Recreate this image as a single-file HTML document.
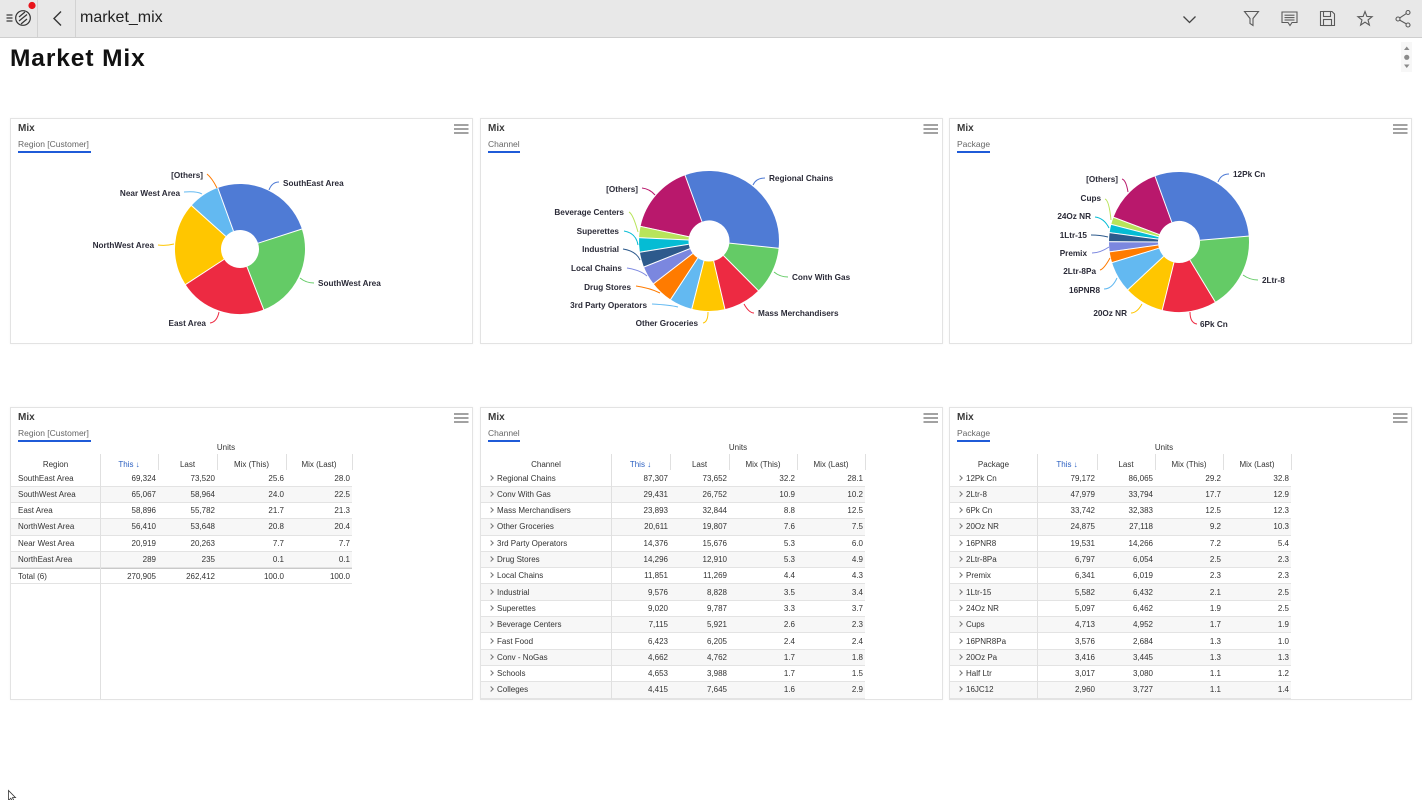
<!DOCTYPE html>
<html><head><meta charset="utf-8">
<style>
*{margin:0;padding:0;box-sizing:border-box}
body{width:1422px;height:800px;overflow:hidden;background:#fff;font-family:"Liberation Sans",Arial,sans-serif;color:#333;position:relative}
.topbar{position:absolute;left:0;top:0;width:1422px;height:38px;background:#e8e8e8;border-bottom:1px solid #cecece}
.vsep{position:absolute;top:0;width:1px;height:37px;background:#d2d2d2}
.appname{position:absolute;left:80px;top:9px;font-size:16px;color:#222;line-height:18px}
h1{position:absolute;left:10px;top:44px;font-size:24.5px;letter-spacing:0.9px;font-weight:bold;color:#111;line-height:30px}
.panel{position:absolute;background:#fff;border:1px solid #e3e3e3;box-shadow:0 0 2px rgba(0,0,0,0.04)}
.ptitle{position:absolute;left:7px;top:4px;font-size:10px;font-weight:bold;color:#3a3a3a;line-height:12px}
.psub{position:absolute;left:7px;top:20px;font-size:8.5px;color:#666;line-height:11px;white-space:nowrap}
.pul{position:absolute;left:7px;top:32px;height:2px;background:#1f5bd8}
.units{position:absolute;top:443px;line-height:10px;font-size:8px;text-align:center;color:#333}
.hd{position:absolute;top:457px;height:16px;line-height:16px;font-size:8px;display:flex;color:#333}
.hd span{display:block;text-align:center}
.hd .blue{color:#2a5fc1}
.vl{position:absolute;width:1px;background:#e0e0e0}
.tb{position:absolute;top:470.4px;font-size:8px;color:#333}
.r{height:16.3px;border-bottom:1px solid #e3e3e3;display:flex;align-items:center;white-space:nowrap}
.r.a{background:#f7f7f7}
.r.tot{border-top:1px solid #c9c9c9}
.r span{display:block;text-align:right;padding-right:2px}
.r span:first-child{text-align:left}
.ch{display:inline-block;width:4px;height:4px;border-right:1px solid #777;border-top:1px solid #777;transform:rotate(45deg);margin-right:4px;vertical-align:1px}
.t1 .r span:nth-child(1){width:89px;padding-left:7px}
.t1 .r span:nth-child(2){width:58px}
.t1 .r span:nth-child(3){width:59px}
.t1 .r span:nth-child(4){width:69px}
.t1 .r span:nth-child(5){width:66px}
.t2 .r span:nth-child(1){width:130px;padding-left:8px}
.t2 .r span:nth-child(2){width:59px}
.t2 .r span:nth-child(3){width:59px}
.t2 .r span:nth-child(4){width:68px}
.t2 .r span:nth-child(5){width:68px}
.t3 .r span:nth-child(1){width:87px;padding-left:8px}
.t3 .r span:nth-child(2){width:60px}
.t3 .r span:nth-child(3){width:58px}
.t3 .r span:nth-child(4){width:68px}
.t3 .r span:nth-child(5){width:68px}
svg.ov{position:absolute;left:0;top:0;width:1422px;height:800px}
.lb{font-family:"Liberation Sans",Arial,sans-serif;font-size:8.2px;font-weight:bold;fill:#2b2b38}
</style></head><body>

<div class="topbar"></div>
<div class="vsep" style="left:37px"></div>
<div class="vsep" style="left:75px"></div>
<div class="appname">market_mix</div>
<h1>Market Mix</h1>

<!-- pie panels -->
<div class="panel" style="left:10px;top:118px;width:463px;height:226px">
  <div class="ptitle">Mix</div><div class="psub">Region [Customer]</div><div class="pul" style="width:73px"></div>
</div>
<div class="panel" style="left:480px;top:118px;width:463px;height:226px">
  <div class="ptitle">Mix</div><div class="psub">Channel</div><div class="pul" style="width:32px"></div>
</div>
<div class="panel" style="left:949px;top:118px;width:463px;height:226px">
  <div class="ptitle">Mix</div><div class="psub">Package</div><div class="pul" style="width:33px"></div>
</div>

<!-- table panels -->
<div class="panel" style="left:10px;top:407px;width:463px;height:293px">
  <div class="ptitle">Mix</div><div class="psub">Region [Customer]</div><div class="pul" style="width:73px"></div>
</div>
<div class="panel" style="left:480px;top:407px;width:463px;height:293px">
  <div class="ptitle">Mix</div><div class="psub">Channel</div><div class="pul" style="width:32px"></div>
</div>
<div class="panel" style="left:949px;top:407px;width:463px;height:293px">
  <div class="ptitle">Mix</div><div class="psub">Package</div><div class="pul" style="width:33px"></div>
</div>

<!-- Table 1 -->
<div class="units" style="left:100px;width:252px">Units</div>
<div class="hd" style="left:11px">
  <span style="width:89px">Region</span>
  <span style="width:58px" class="blue">This <b>&#8595;</b></span>
  <span style="width:59px">Last</span>
  <span style="width:69px">Mix (This)</span>
  <span style="width:66px">Mix (Last)</span>
</div>
<div class="tb t1" style="left:11px;width:341px">
  <div class="r"><span>SouthEast Area</span><span>69,324</span><span>73,520</span><span>25.6</span><span>28.0</span></div>
  <div class="r a"><span>SouthWest Area</span><span>65,067</span><span>58,964</span><span>24.0</span><span>22.5</span></div>
  <div class="r"><span>East Area</span><span>58,896</span><span>55,782</span><span>21.7</span><span>21.3</span></div>
  <div class="r a"><span>NorthWest Area</span><span>56,410</span><span>53,648</span><span>20.8</span><span>20.4</span></div>
  <div class="r"><span>Near West Area</span><span>20,919</span><span>20,263</span><span>7.7</span><span>7.7</span></div>
  <div class="r a"><span>NorthEast Area</span><span>289</span><span>235</span><span>0.1</span><span>0.1</span></div>
  <div class="r tot"><span>Total (6)</span><span>270,905</span><span>262,412</span><span>100.0</span><span>100.0</span></div>
</div>
<div class="vl" style="left:100px;top:454px;height:245px"></div>
<div class="vl" style="left:158px;top:454px;height:16px"></div>
<div class="vl" style="left:217px;top:454px;height:16px"></div>
<div class="vl" style="left:286px;top:454px;height:16px"></div>
<div class="vl" style="left:352px;top:454px;height:16px"></div>

<!-- Table 2 -->
<div class="units" style="left:611px;width:254px">Units</div>
<div class="hd" style="left:481px">
  <span style="width:130px">Channel</span>
  <span style="width:59px" class="blue">This <b>&#8595;</b></span>
  <span style="width:59px">Last</span>
  <span style="width:68px">Mix (This)</span>
  <span style="width:68px">Mix (Last)</span>
</div>
<div class="tb t2" style="left:481px;width:384px">
  <div class="r"><span><i class="ch"></i>Regional Chains</span><span>87,307</span><span>73,652</span><span>32.2</span><span>28.1</span></div>
  <div class="r a"><span><i class="ch"></i>Conv With Gas</span><span>29,431</span><span>26,752</span><span>10.9</span><span>10.2</span></div>
  <div class="r"><span><i class="ch"></i>Mass Merchandisers</span><span>23,893</span><span>32,844</span><span>8.8</span><span>12.5</span></div>
  <div class="r a"><span><i class="ch"></i>Other Groceries</span><span>20,611</span><span>19,807</span><span>7.6</span><span>7.5</span></div>
  <div class="r"><span><i class="ch"></i>3rd Party Operators</span><span>14,376</span><span>15,676</span><span>5.3</span><span>6.0</span></div>
  <div class="r a"><span><i class="ch"></i>Drug Stores</span><span>14,296</span><span>12,910</span><span>5.3</span><span>4.9</span></div>
  <div class="r"><span><i class="ch"></i>Local Chains</span><span>11,851</span><span>11,269</span><span>4.4</span><span>4.3</span></div>
  <div class="r a"><span><i class="ch"></i>Industrial</span><span>9,576</span><span>8,828</span><span>3.5</span><span>3.4</span></div>
  <div class="r"><span><i class="ch"></i>Superettes</span><span>9,020</span><span>9,787</span><span>3.3</span><span>3.7</span></div>
  <div class="r a"><span><i class="ch"></i>Beverage Centers</span><span>7,115</span><span>5,921</span><span>2.6</span><span>2.3</span></div>
  <div class="r"><span><i class="ch"></i>Fast Food</span><span>6,423</span><span>6,205</span><span>2.4</span><span>2.4</span></div>
  <div class="r a"><span><i class="ch"></i>Conv - NoGas</span><span>4,662</span><span>4,762</span><span>1.7</span><span>1.8</span></div>
  <div class="r"><span><i class="ch"></i>Schools</span><span>4,653</span><span>3,988</span><span>1.7</span><span>1.5</span></div>
  <div class="r a"><span><i class="ch"></i>Colleges</span><span>4,415</span><span>7,645</span><span>1.6</span><span>2.9</span></div>
</div>
<div class="vl" style="left:611px;top:454px;height:245px"></div>
<div class="vl" style="left:670px;top:454px;height:16px"></div>
<div class="vl" style="left:729px;top:454px;height:16px"></div>
<div class="vl" style="left:797px;top:454px;height:16px"></div>
<div class="vl" style="left:865px;top:454px;height:16px"></div>

<!-- Table 3 -->
<div class="units" style="left:1037px;width:254px">Units</div>
<div class="hd" style="left:950px">
  <span style="width:87px">Package</span>
  <span style="width:60px" class="blue">This <b>&#8595;</b></span>
  <span style="width:58px">Last</span>
  <span style="width:68px">Mix (This)</span>
  <span style="width:68px">Mix (Last)</span>
</div>
<div class="tb t3" style="left:950px;width:341px">
  <div class="r"><span><i class="ch"></i>12Pk Cn</span><span>79,172</span><span>86,065</span><span>29.2</span><span>32.8</span></div>
  <div class="r a"><span><i class="ch"></i>2Ltr-8</span><span>47,979</span><span>33,794</span><span>17.7</span><span>12.9</span></div>
  <div class="r"><span><i class="ch"></i>6Pk Cn</span><span>33,742</span><span>32,383</span><span>12.5</span><span>12.3</span></div>
  <div class="r a"><span><i class="ch"></i>20Oz NR</span><span>24,875</span><span>27,118</span><span>9.2</span><span>10.3</span></div>
  <div class="r"><span><i class="ch"></i>16PNR8</span><span>19,531</span><span>14,266</span><span>7.2</span><span>5.4</span></div>
  <div class="r a"><span><i class="ch"></i>2Ltr-8Pa</span><span>6,797</span><span>6,054</span><span>2.5</span><span>2.3</span></div>
  <div class="r"><span><i class="ch"></i>Premix</span><span>6,341</span><span>6,019</span><span>2.3</span><span>2.3</span></div>
  <div class="r a"><span><i class="ch"></i>1Ltr-15</span><span>5,582</span><span>6,432</span><span>2.1</span><span>2.5</span></div>
  <div class="r"><span><i class="ch"></i>24Oz NR</span><span>5,097</span><span>6,462</span><span>1.9</span><span>2.5</span></div>
  <div class="r a"><span><i class="ch"></i>Cups</span><span>4,713</span><span>4,952</span><span>1.7</span><span>1.9</span></div>
  <div class="r"><span><i class="ch"></i>16PNR8Pa</span><span>3,576</span><span>2,684</span><span>1.3</span><span>1.0</span></div>
  <div class="r a"><span><i class="ch"></i>20Oz Pa</span><span>3,416</span><span>3,445</span><span>1.3</span><span>1.3</span></div>
  <div class="r"><span><i class="ch"></i>Half Ltr</span><span>3,017</span><span>3,080</span><span>1.1</span><span>1.2</span></div>
  <div class="r a"><span><i class="ch"></i>16JC12</span><span>2,960</span><span>3,727</span><span>1.1</span><span>1.4</span></div>
</div>
<div class="vl" style="left:1037px;top:454px;height:245px"></div>
<div class="vl" style="left:1097px;top:454px;height:16px"></div>
<div class="vl" style="left:1155px;top:454px;height:16px"></div>
<div class="vl" style="left:1223px;top:454px;height:16px"></div>
<div class="vl" style="left:1291px;top:454px;height:16px"></div>

<svg class="ov" viewBox="0 0 1422 800" xmlns="http://www.w3.org/2000/svg">
  <!-- top bar left -->
  <g stroke="#333" stroke-width="1.2" fill="none">
    <line x1="6.5" y1="15" x2="12.5" y2="15"/><line x1="6.5" y1="18" x2="12.5" y2="18"/><line x1="6.5" y1="21" x2="12.5" y2="21"/>
    <circle cx="23" cy="18" r="7.3"/>
    <line x1="19" y1="17" x2="25" y2="12"/><line x1="19" y1="21" x2="27" y2="14.5"/><line x1="21" y1="24" x2="27" y2="19"/>
    <polyline points="61,11.5 54,18.5 61,25.5" stroke-width="1.4"/>
  </g>
  <circle cx="32" cy="5.5" r="3.6" fill="#e8141b"/>
  <!-- top bar right icons -->
  <g stroke="#5a5a5a" stroke-width="1.1" fill="none">
    <polyline points="1183.5,16.5 1189.5,22.5 1195.5,16.5" stroke="#444" stroke-width="1.3"/>
    <path d="M1244.5 11.5 H1258.5 L1253 18.5 V25.5 L1250 23.5 V18.5 Z"/>
    <path d="M1282 12 H1297 V22.5 H1292 L1290 25.5 L1288 22.5 H1282 Z"/>
    <line x1="1284.5" y1="15.2" x2="1294.5" y2="15.2"/><line x1="1284.5" y1="17.6" x2="1294.5" y2="17.6"/><line x1="1284.5" y1="20" x2="1294.5" y2="20"/>
    <path d="M1320.5 11.5 H1332 L1334.5 14 V25.5 H1320.5 Z"/>
    <rect x="1323.5" y="11.5" width="7" height="5"/>
    <rect x="1323.5" y="19.5" width="8" height="6"/>
    <polygon points="1365,11.5 1366.88,16.41 1372.13,16.68 1368.04,19.99 1369.41,25.07 1365,22.2 1360.59,25.07 1361.96,19.99 1357.87,16.68 1363.12,16.41"/>
    <circle cx="1408" cy="12.5" r="2"/><circle cx="1398" cy="19" r="2"/><circle cx="1408" cy="25" r="2"/>
    <line x1="1406.3" y1="13.6" x2="1399.7" y2="17.9"/><line x1="1399.7" y1="20.1" x2="1406.3" y2="23.9"/>
  </g>
  <!-- scroll indicator -->
  <rect x="1401" y="42" width="11" height="30" fill="#f7f7f7"/>
  <g fill="#8a8a8a">
    <polygon points="1404,50 1409.5,50 1406.75,46.5"/>
    <circle cx="1406.75" cy="57.3" r="2.6"/>
    <polygon points="1404,64.5 1409.5,64.5 1406.75,68"/>
  </g>
  <!-- hamburgers -->
  <g stroke="#7a7a7a" stroke-width="1.4">
    <line x1="454" y1="125" x2="468.5" y2="125"/><line x1="454" y1="129" x2="468.5" y2="129"/><line x1="454" y1="133" x2="468.5" y2="133"/>
    <line x1="923.5" y1="125" x2="938" y2="125"/><line x1="923.5" y1="129" x2="938" y2="129"/><line x1="923.5" y1="133" x2="938" y2="133"/>
    <line x1="1393" y1="125" x2="1407.5" y2="125"/><line x1="1393" y1="129" x2="1407.5" y2="129"/><line x1="1393" y1="133" x2="1407.5" y2="133"/>
    <line x1="454" y1="414" x2="468.5" y2="414"/><line x1="454" y1="418" x2="468.5" y2="418"/><line x1="454" y1="422" x2="468.5" y2="422"/>
    <line x1="923.5" y1="414" x2="938" y2="414"/><line x1="923.5" y1="418" x2="938" y2="418"/><line x1="923.5" y1="422" x2="938" y2="422"/>
    <line x1="1393" y1="414" x2="1407.5" y2="414"/><line x1="1393" y1="418" x2="1407.5" y2="418"/><line x1="1393" y1="422" x2="1407.5" y2="422"/>
  </g>

  <!-- PIE 1 -->
  <g fill="none" stroke-width="46" transform="rotate(-110 240 249)">
    <circle cx="240" cy="249" r="42" stroke="#4f7bd5" stroke-dasharray="67.53 1000" stroke-dashoffset="0"/>
    <circle cx="240" cy="249" r="42" stroke="#64cb66" stroke-dasharray="63.38 1000" stroke-dashoffset="-67.53"/>
    <circle cx="240" cy="249" r="42" stroke="#ed2a42" stroke-dasharray="57.37 1000" stroke-dashoffset="-130.91"/>
    <circle cx="240" cy="249" r="42" stroke="#ffc600" stroke-dasharray="54.95 1000" stroke-dashoffset="-188.28"/>
    <circle cx="240" cy="249" r="42" stroke="#63b9f1" stroke-dasharray="20.38 1000" stroke-dashoffset="-243.23"/>
    <circle cx="240" cy="249" r="42" stroke="#ff7b00" stroke-dasharray="0.5 1000" stroke-dashoffset="-263.4"/>
  </g>
  <g stroke="#fff" stroke-width="1">
    <line x1="240" y1="230" x2="240" y2="183" transform="rotate(-20 240 249)"/>
    <line x1="240" y1="230" x2="240" y2="183" transform="rotate(72.12 240 249)"/>
    <line x1="240" y1="230" x2="240" y2="183" transform="rotate(158.59 240 249)"/>
    <line x1="240" y1="230" x2="240" y2="183" transform="rotate(236.85 240 249)"/>
    <line x1="240" y1="230" x2="240" y2="183" transform="rotate(311.82 240 249)"/>
  </g>
  <g fill="none" stroke-width="1">
    <path d="M269 190 Q272 182 279 182" stroke="#4f7bd5"/>
    <path d="M300 278 Q306 283 314 283" stroke="#64cb66"/>
    <path d="M219 312 Q217 322 210 323" stroke="#ed2a42"/>
    <path d="M174 244 Q166 246 158 245" stroke="#ffc600"/>
    <path d="M202 194 Q197 191 184 192" stroke="#63b9f1"/>
    <path d="M217 188 Q212 178 207 174" stroke="#ff7b00"/>
  </g>
  <g class="lb">
    <text x="283" y="186">SouthEast Area</text>
    <text x="318" y="286">SouthWest Area</text>
    <text x="206" y="326" text-anchor="end">East Area</text>
    <text x="154" y="248" text-anchor="end">NorthWest Area</text>
    <text x="180" y="196" text-anchor="end">Near West Area</text>
    <text x="203" y="178" text-anchor="end">[Others]</text>
  </g>

  <!-- PIE 2 -->
  <g fill="none" stroke-width="49.5" transform="rotate(-110 709 241)">
    <circle cx="709" cy="241" r="45.25" stroke="#4f7bd5" stroke-dasharray="91.55 1000" stroke-dashoffset="0"/>
    <circle cx="709" cy="241" r="45.25" stroke="#64cb66" stroke-dasharray="30.99 1000" stroke-dashoffset="-91.55"/>
    <circle cx="709" cy="241" r="45.25" stroke="#ed2a42" stroke-dasharray="25.02 1000" stroke-dashoffset="-122.54"/>
    <circle cx="709" cy="241" r="45.25" stroke="#ffc600" stroke-dasharray="21.61 1000" stroke-dashoffset="-147.56"/>
    <circle cx="709" cy="241" r="45.25" stroke="#63b9f1" stroke-dasharray="15.07 1000" stroke-dashoffset="-169.17"/>
    <circle cx="709" cy="241" r="45.25" stroke="#ff7b00" stroke-dasharray="15.07 1000" stroke-dashoffset="-184.24"/>
    <circle cx="709" cy="241" r="45.25" stroke="#7b87df" stroke-dasharray="12.51 1000" stroke-dashoffset="-199.31"/>
    <circle cx="709" cy="241" r="45.25" stroke="#2d5a8c" stroke-dasharray="9.95 1000" stroke-dashoffset="-211.82"/>
    <circle cx="709" cy="241" r="45.25" stroke="#05bcd4" stroke-dasharray="9.38 1000" stroke-dashoffset="-221.77"/>
    <circle cx="709" cy="241" r="45.25" stroke="#b8e45a" stroke-dasharray="7.39 1000" stroke-dashoffset="-231.15"/>
    <circle cx="709" cy="241" r="45.25" stroke="#b9186c" stroke-dasharray="45.77 1000" stroke-dashoffset="-238.54"/>
  </g>
  <g stroke="#fff" stroke-width="1">
    <line x1="709" y1="220.5" x2="709" y2="170" transform="rotate(-20 709 241)"/>
    <line x1="709" y1="220.5" x2="709" y2="170" transform="rotate(95.92 709 241)"/>
    <line x1="709" y1="220.5" x2="709" y2="170" transform="rotate(135.16 709 241)"/>
    <line x1="709" y1="220.5" x2="709" y2="170" transform="rotate(166.84 709 241)"/>
    <line x1="709" y1="220.5" x2="709" y2="170" transform="rotate(194.2 709 241)"/>
    <line x1="709" y1="220.5" x2="709" y2="170" transform="rotate(213.28 709 241)"/>
    <line x1="709" y1="220.5" x2="709" y2="170" transform="rotate(232.36 709 241)"/>
    <line x1="709" y1="220.5" x2="709" y2="170" transform="rotate(248.2 709 241)"/>
    <line x1="709" y1="220.5" x2="709" y2="170" transform="rotate(260.8 709 241)"/>
    <line x1="709" y1="220.5" x2="709" y2="170" transform="rotate(272.68 709 241)"/>
    <line x1="709" y1="220.5" x2="709" y2="170" transform="rotate(282.04 709 241)"/>
  </g>
  <g fill="none" stroke-width="1">
    <path d="M753 185 Q756 178 765 178" stroke="#4f7bd5"/>
    <path d="M774 272 Q780 277 788 277" stroke="#64cb66"/>
    <path d="M744 304 Q749 313 754 313" stroke="#ed2a42"/>
    <path d="M708 312 Q708 322 703 323" stroke="#ffc600"/>
    <path d="M678 307 Q670 305 652 304" stroke="#63b9f1"/>
    <path d="M660 293 Q650 288 636 286" stroke="#ff7b00"/>
    <path d="M647 276 Q640 270 627 268" stroke="#7b87df"/>
    <path d="M640 260 Q636 251 623 249" stroke="#2d5a8c"/>
    <path d="M638 245 Q636 233 624 231" stroke="#05bcd4"/>
    <path d="M638 232 Q633 214 629 212" stroke="#b8e45a"/>
    <path d="M655 195 Q650 189 642 188" stroke="#b9186c"/>
  </g>
  <g class="lb">
    <text x="769" y="181">Regional Chains</text>
    <text x="792" y="280">Conv With Gas</text>
    <text x="758" y="316">Mass Merchandisers</text>
    <text x="698" y="326" text-anchor="end">Other Groceries</text>
    <text x="647" y="308" text-anchor="end">3rd Party Operators</text>
    <text x="631" y="290" text-anchor="end">Drug Stores</text>
    <text x="622" y="271" text-anchor="end">Local Chains</text>
    <text x="619" y="252" text-anchor="end">Industrial</text>
    <text x="619" y="234" text-anchor="end">Superettes</text>
    <text x="624" y="215" text-anchor="end">Beverage Centers</text>
    <text x="638" y="192" text-anchor="end">[Others]</text>
  </g>

  <!-- PIE 3 -->
  <g fill="none" stroke-width="49" transform="rotate(-110 1179 242)">
    <circle cx="1179" cy="242" r="45.5" stroke="#4f7bd5" stroke-dasharray="83.48 1000" stroke-dashoffset="0"/>
    <circle cx="1179" cy="242" r="45.5" stroke="#64cb66" stroke-dasharray="50.60 1000" stroke-dashoffset="-83.48"/>
    <circle cx="1179" cy="242" r="45.5" stroke="#ed2a42" stroke-dasharray="35.74 1000" stroke-dashoffset="-134.08"/>
    <circle cx="1179" cy="242" r="45.5" stroke="#ffc600" stroke-dasharray="26.30 1000" stroke-dashoffset="-169.82"/>
    <circle cx="1179" cy="242" r="45.5" stroke="#63b9f1" stroke-dasharray="20.58 1000" stroke-dashoffset="-196.12"/>
    <circle cx="1179" cy="242" r="45.5" stroke="#ff7b00" stroke-dasharray="7.15 1000" stroke-dashoffset="-216.70"/>
    <circle cx="1179" cy="242" r="45.5" stroke="#7b87df" stroke-dasharray="6.58 1000" stroke-dashoffset="-223.85"/>
    <circle cx="1179" cy="242" r="45.5" stroke="#2d5a8c" stroke-dasharray="6.00 1000" stroke-dashoffset="-230.43"/>
    <circle cx="1179" cy="242" r="45.5" stroke="#05bcd4" stroke-dasharray="5.43 1000" stroke-dashoffset="-236.43"/>
    <circle cx="1179" cy="242" r="45.5" stroke="#b8e45a" stroke-dasharray="4.86 1000" stroke-dashoffset="-241.86"/>
    <circle cx="1179" cy="242" r="45.5" stroke="#b9186c" stroke-dasharray="39.17 1000" stroke-dashoffset="-246.72"/>
  </g>
  <g stroke="#fff" stroke-width="1">
    <line x1="1179" y1="221" x2="1179" y2="171" transform="rotate(-20 1179 242)"/>
    <line x1="1179" y1="221" x2="1179" y2="171" transform="rotate(85.12 1179 242)"/>
    <line x1="1179" y1="221" x2="1179" y2="171" transform="rotate(148.84 1179 242)"/>
    <line x1="1179" y1="221" x2="1179" y2="171" transform="rotate(193.84 1179 242)"/>
    <line x1="1179" y1="221" x2="1179" y2="171" transform="rotate(226.96 1179 242)"/>
    <line x1="1179" y1="221" x2="1179" y2="171" transform="rotate(252.88 1179 242)"/>
    <line x1="1179" y1="221" x2="1179" y2="171" transform="rotate(261.88 1179 242)"/>
    <line x1="1179" y1="221" x2="1179" y2="171" transform="rotate(270.16 1179 242)"/>
    <line x1="1179" y1="221" x2="1179" y2="171" transform="rotate(277.72 1179 242)"/>
    <line x1="1179" y1="221" x2="1179" y2="171" transform="rotate(284.56 1179 242)"/>
    <line x1="1179" y1="221" x2="1179" y2="171" transform="rotate(290.68 1179 242)"/>
  </g>
  <g fill="none" stroke-width="1">
    <path d="M1218 182 Q1221 174 1229 174" stroke="#4f7bd5"/>
    <path d="M1243 275 Q1250 280 1258 280" stroke="#64cb66"/>
    <path d="M1190 312 Q1190 323 1197 324" stroke="#ed2a42"/>
    <path d="M1142 304 Q1137 313 1131 313" stroke="#ffc600"/>
    <path d="M1117 278 Q1112 289 1104 289" stroke="#63b9f1"/>
    <path d="M1110 258 Q1104 269 1100 270" stroke="#ff7b00"/>
    <path d="M1109 247 Q1100 253 1092 253" stroke="#7b87df"/>
    <path d="M1108 237 Q1100 235 1091 235" stroke="#2d5a8c"/>
    <path d="M1109 228 Q1104 218 1095 217" stroke="#05bcd4"/>
    <path d="M1111 220 Q1109 200 1105 199" stroke="#b8e45a"/>
    <path d="M1128 192 Q1126 180 1122 179" stroke="#b9186c"/>
  </g>
  <g class="lb">
    <text x="1233" y="177">12Pk Cn</text>
    <text x="1262" y="283">2Ltr-8</text>
    <text x="1200" y="327">6Pk Cn</text>
    <text x="1127" y="316" text-anchor="end">20Oz NR</text>
    <text x="1100" y="293" text-anchor="end">16PNR8</text>
    <text x="1096" y="274" text-anchor="end">2Ltr-8Pa</text>
    <text x="1087" y="256" text-anchor="end">Premix</text>
    <text x="1087" y="238" text-anchor="end">1Ltr-15</text>
    <text x="1091" y="219" text-anchor="end">24Oz NR</text>
    <text x="1101" y="201" text-anchor="end">Cups</text>
    <text x="1118" y="182" text-anchor="end">[Others]</text>
  </g>

  <!-- cursor -->
  <path d="M8.5 790.5 L8.5 800.5 L10.8 798.3 L12.5 801.5 L14 800.8 L12.4 797.6 L15.5 797.6 Z" fill="#fff" stroke="#333" stroke-width="0.8"/>
</svg>
</body></html>
